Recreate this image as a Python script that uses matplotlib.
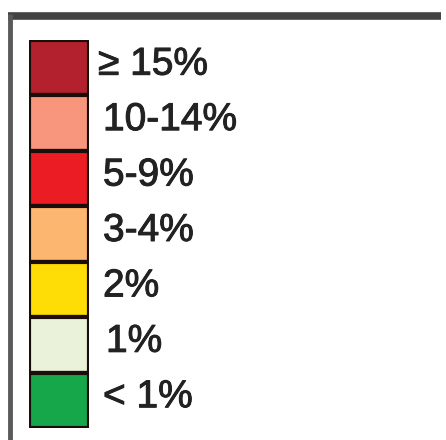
import matplotlib.pyplot as plt
import matplotlib.patheffects as pe

labels = ["\u2265 15%", "10-14%", "5-9%", "3-4%", "2%", "1%", "< 1%"]
colors = ["#B3212F", "#F7957D", "#EC1C24", "#FDB66F", "#FEDD06", "#EAF2DA", "#16A74A"]

W, H = 446, 440
fig = plt.figure(figsize=(W / 100, H / 100), dpi=100)

# frame lines (pixel coords)
bg = fig.add_axes([0, 0, 1, 1])
bg.set_xlim(0, W)
bg.set_ylim(H, 0)
bg.axis("off")
bg.plot([8, 441], [16.5, 16.5], color="#444444", lw=5.5, solid_capstyle="butt")
bg.plot([10, 10], [14, H], color="#5a5a5a", lw=3.5, solid_capstyle="butt")

# swatch column
top, bottom = 40, 428
x0, x1 = 29, 89
ax = fig.add_axes([x0 / W, 1 - bottom / H, (x1 - x0) / W, (bottom - top) / H])
n = len(labels)
ax.barh(range(n), [1] * n, height=1.0, left=0, color=colors,
        edgecolor="#1a0d0a", linewidth=3)
ax.set_xlim(0, 1)
ax.set_ylim(n - 0.5, -0.5)
ax.axis("off")

row_h = (bottom - top) / n
for i, lab in enumerate(labels):
    y = top + (i + 0.5) * row_h - 3
    xt = 98 if i == 0 else (106 if lab == "1%" else 103)
    bg.text(xt, y, lab, fontsize=28, family="Liberation Sans", color="#222222",
            va="center", ha="left",
            path_effects=[pe.withStroke(linewidth=0.7, foreground="#222222")])

fig.savefig("out.png", dpi=100)
